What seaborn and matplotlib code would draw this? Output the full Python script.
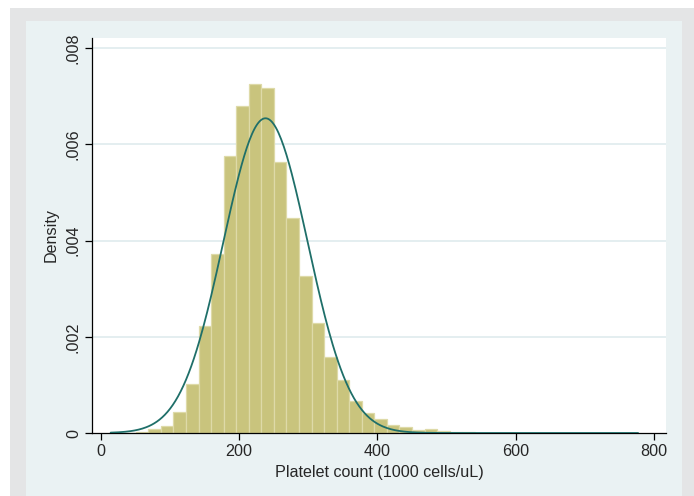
import numpy as np
import pandas as pd
import matplotlib
matplotlib.use("Agg")
import matplotlib.pyplot as plt
import seaborn as sns
from matplotlib.patches import Rectangle

# histogram of platelet counts (density per bin), 42 equal bins over the data range
bin_lo = 14.0
bin_hi = 777.0
n_bins = 42
density = [
    0.00001, 0.00001, 0.00002, 0.00008, 0.00015, 0.00044, 0.00102, 0.00223,
    0.00372, 0.00576, 0.00680, 0.00725, 0.00716, 0.00564, 0.00447, 0.00326,
    0.00228, 0.00157, 0.00110, 0.00066, 0.00042, 0.00029, 0.00017, 0.00013,
    0.00006, 0.00008, 0.00004, 0.00002, 0.00002, 0.00001, 0.00001, 0.00001,
    0.000005, 0.000005, 0.000005, 0.000005, 0.000005, 0.000005, 0.000005,
    0.000005, 0.000005, 0.000005,
]
# normal overlay parameters
norm_mean = 238.0
norm_sd = 61.0

x_ticks = [0, 200, 400, 600, 800]
y_ticks = [0, 0.002, 0.004, 0.006, 0.008]
y_tick_labels = ["0", ".002", ".004", ".006", ".008"]

sns.set_style("white")
plt.rcParams["font.family"] = ["Liberation Sans", "DejaVu Sans"]
fs = 11.6

W, H = 694, 496
fig = plt.figure(figsize=(W / 100, H / 100), dpi=100, facecolor="white")

# stata-ish frame: grey outer band, light blue graph region
fig.patches.append(Rectangle((10 / W, 0), 1 - 10 / W, 1 - 8 / H, transform=fig.transFigure,
                             facecolor="#e4e5e6", edgecolor="none", zorder=-2))
fig.patches.append(Rectangle((26 / W, 0), (682 - 26) / W, 1 - 21 / H, transform=fig.transFigure,
                             facecolor="#eaf2f3", edgecolor="none", zorder=-1))

ax = fig.add_axes([92 / W, (H - 433) / H, (666 - 92) / W, (433 - 38) / H])
ax.set_facecolor("white")

edges = list(np.linspace(bin_lo, bin_hi, n_bins + 1))
df = pd.DataFrame({
    "center": [(edges[i] + edges[i + 1]) / 2 for i in range(n_bins)],
    "density": density,
})
sns.histplot(data=df, x="center", weights="density", bins=edges, stat="count", ax=ax,
             color="#c9c47d", edgecolor="#dedaa8", linewidth=0.9, alpha=1, zorder=2)

xs = np.linspace(bin_lo, bin_hi, 400)
pdf = np.exp(-0.5 * ((xs - norm_mean) / norm_sd) ** 2) / (norm_sd * np.sqrt(2 * np.pi))
sns.lineplot(x=xs, y=pdf, ax=ax, color="#1f6f69", linewidth=1.3, zorder=3)

ax.set_xlim(-13.0, 817.4)
ax.set_ylim(0, 0.008208)

for yv in y_ticks[1:]:
    ax.axhline(yv, color="#e4eef0", linewidth=1.4, zorder=1)

ax.set_xticks(x_ticks)
ax.set_xticklabels([str(v) for v in x_ticks], fontsize=fs)
ax.set_yticks(y_ticks)
ax.set_yticklabels(y_tick_labels, fontsize=fs, rotation=90, va="center")
ax.tick_params(axis="both", direction="out", length=5, width=0.9, color="black",
               left=True, bottom=True, pad=3)

ax.set_xlabel("Platelet count (1000 cells/uL)", fontsize=fs, labelpad=4)
ax.set_ylabel("Density", fontsize=fs, labelpad=5)

for s in ["top", "right"]:
    ax.spines[s].set_visible(False)
for s in ["left", "bottom"]:
    ax.spines[s].set_color("black")
    ax.spines[s].set_linewidth(0.9)

fig.savefig("out.png", dpi=100, facecolor="white")
